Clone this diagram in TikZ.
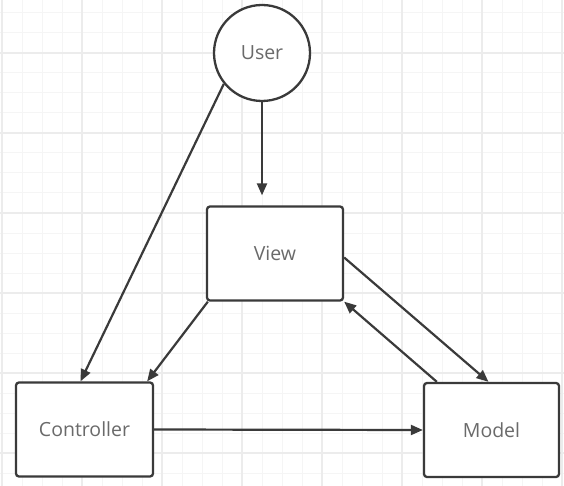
\documentclass[tikz,border=0pt]{standalone}
\usepackage{fontspec}
\setmainfont{Open Sans}
\usepackage{tikz}
\usetikzlibrary{positioning,arrows.meta,shapes.geometric}

\definecolor{linegray}{HTML}{3A3A3A}
\definecolor{textgray}{HTML}{6A6A6A}
\definecolor{gridminor}{HTML}{F5F5F5}
\definecolor{gridmajor}{HTML}{ECECEC}

\begin{document}
\begin{tikzpicture}[
        x=1pt, y=-1pt,
        every node/.style={font=\fontsize{19.5}{22}\selectfont, text=textgray, align=center},
        box/.style={rectangle, rounded corners=3pt, draw=linegray, line width=2.3pt, fill=white, minimum width=136pt, minimum height=94pt},
        actor/.style={circle, draw=linegray, line width=2.3pt, fill=white, minimum size=96pt},
        arrow/.style={-{Triangle[length=12pt,width=10pt]}, line width=2.2pt, draw=linegray}
    ]
    \useasboundingbox (0,0) rectangle (564,486);
    % Grid
    \fill[white] (0,0) rectangle (564,486);
    \foreach \x in {2,22,...,562} \draw[gridminor, line width=1pt] (\x,0) -- (\x,486);
    \foreach \y in {13,33,...,486} \draw[gridminor, line width=1pt] (0,\y) -- (564,\y);
    \foreach \x in {2,82,...,562} \draw[gridmajor, line width=1.2pt] (\x,0) -- (\x,486);
    \foreach \y in {53,133,...,486} \draw[gridmajor, line width=1.2pt] (0,\y) -- (564,\y);
    % Nodes
    \node[actor] (user) at (262,53) {User};
    \node[box] (view) at (275,253.5) {View};
    \node[box, minimum width=137pt] (controller) at (84.5,429.5) {Controller};
    \node[box, minimum width=135pt] (model) at (491.5,430) {Model};
    % Arrows
    \draw[arrow, shorten >=10pt] (user.south) -- (user.south |- view.north);
    \draw[arrow] (user.219) -- ([xshift=-4pt]controller.north);
    \draw[arrow] ([xshift=2pt]view.south west) -- ([xshift=-7pt]controller.north east);
    \draw[arrow] ([yshift=-4pt]view.east) -- ([xshift=-3pt]model.north);
    \draw[arrow] ([xshift=14pt]model.north west) -- (view.south east);
    \draw[arrow] (controller.east) -- (model.west);
\end{tikzpicture}
\end{document}
